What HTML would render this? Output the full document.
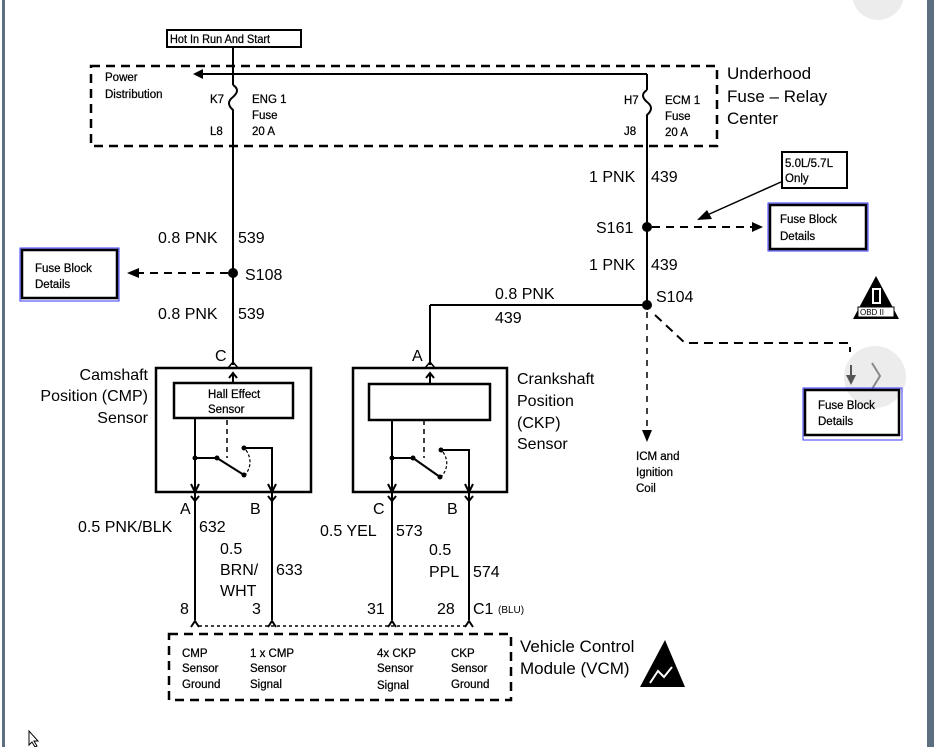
<!DOCTYPE html>
<html><head><meta charset="utf-8"><style>
html,body{margin:0;padding:0;background:#fff;width:934px;height:747px;overflow:hidden}
svg{display:block}
text{font-family:"Liberation Sans",sans-serif;fill:#000}
.s{font-size:11.5px;stroke:#000;stroke-width:0.25px}
</style></head><body>
<svg width="934" height="747" viewBox="0 0 934 747" xmlns="http://www.w3.org/2000/svg">
<rect x="0" y="0" width="934" height="747" fill="#fff"/>
<rect x="2" y="0" width="3" height="747" fill="#5d6e80"/>
<rect x="927" y="0" width="7" height="747" fill="#5d6e80"/>
<circle cx="878" cy="-6" r="26" fill="#ececec"/>

<!-- Hot in run box -->
<rect x="167" y="30" width="134" height="17" fill="#fff" stroke="#000" stroke-width="2"/>
<text x="170" y="43" font-size="11.5" transform="translate(170 0) scale(0.95 1) translate(-170 0)" class="s">Hot In Run And Start</text>

<!-- underhood dashed box -->
<rect x="91" y="66" width="626" height="80" fill="none" stroke="#000" stroke-width="2.5" stroke-dasharray="9,6"/>
<text x="105" y="81" class="s">Power</text>
<text x="105" y="98" class="s">Distribution</text>
<text x="727" y="79" font-size="17">Underhood</text>
<text x="727" y="102" font-size="17">Fuse – Relay</text>
<text x="727" y="124" font-size="17">Center</text>

<g stroke="#000" stroke-width="2" fill="none">
<line x1="233" y1="47" x2="233" y2="85"/>
<line x1="200" y1="74" x2="647" y2="74"/>
<line x1="647" y1="74" x2="647" y2="90"/>
<path d="M233 85 q8 5 0 12 q-8 6 0 13 l0 5"/>
<path d="M647 90 q-8 5 0 12 q8 6 0 13 l0 6"/>
<line x1="233" y1="115" x2="233" y2="365"/>
<line x1="647" y1="120" x2="647" y2="305"/>
<line x1="647" y1="305" x2="430" y2="305"/>
<line x1="430" y1="305" x2="430" y2="365"/>
</g>
<polygon points="193,74 203,69 203,79" fill="#000"/>
<text x="210" y="103" class="s">K7</text>
<text x="210" y="135" class="s">L8</text>
<text x="252" y="103" class="s">ENG 1</text>
<text x="252" y="119" class="s">Fuse</text>
<text x="252" y="135" class="s">20 A</text>
<text x="624" y="104" class="s">H7</text>
<text x="624" y="135" class="s">J8</text>
<text x="665" y="104" class="s">ECM 1</text>
<text x="665" y="120" class="s">Fuse</text>
<text x="665" y="136" class="s">20 A</text>

<!-- right wire labels -->
<text x="589" y="182" font-size="16">1 PNK</text><text x="651" y="182" font-size="16">439</text>
<text x="596" y="233" font-size="16">S161</text>
<circle cx="647" cy="227" r="5" fill="#000"/>
<line x1="652" y1="227" x2="752" y2="227" stroke="#000" stroke-width="2" stroke-dasharray="8,6"/>
<polygon points="763,227 752,222 752,232" fill="#000"/>
<rect x="768" y="203" width="100" height="48" fill="none" stroke="#3a3aff" stroke-width="1"/>
<rect x="770" y="205" width="96" height="44" fill="none" stroke="#000" stroke-width="2.5"/>
<text x="780" y="223" class="s">Fuse Block</text>
<text x="780" y="240" class="s">Details</text>
<rect x="782" y="152" width="65" height="36" fill="#fff" stroke="#000" stroke-width="2"/>
<text x="785" y="167" class="s">5.0L/5.7L</text>
<text x="785" y="182" class="s">Only</text>
<line x1="781" y1="182" x2="705" y2="216" stroke="#000" stroke-width="1.5"/>
<polygon points="697,220 707,210 712,219" fill="#000"/>
<text x="589" y="270" font-size="16">1 PNK</text><text x="651" y="270" font-size="16">439</text>
<text x="656" y="302" font-size="16">S104</text>
<circle cx="647" cy="305" r="5" fill="#000"/>
<text x="495" y="299" font-size="16">0.8 PNK</text>
<text x="495" y="323" font-size="16">439</text>
<line x1="647" y1="312" x2="647" y2="430" stroke="#000" stroke-width="1.5" stroke-dasharray="6,6"/>
<polygon points="647,442 642,430 652,430" fill="#000"/>
<text x="636" y="460" class="s">ICM and</text>
<text x="636" y="476" class="s">Ignition</text>
<text x="636" y="492" class="s">Coil</text>
<path d="M655 315 L685 343 L850 343 L850 352" stroke="#000" stroke-width="2" stroke-dasharray="9,6" fill="none"/>
<circle cx="875" cy="377" r="31" fill="#ececec"/>
<line x1="851" y1="365" x2="851" y2="378" stroke="#555" stroke-width="2"/>
<polygon points="851,385 846,375 856,375" fill="#555"/>
<path d="M872 363 l8 13 l-8 13" stroke="#888" stroke-width="2" fill="none"/>
<rect x="803" y="388" width="99" height="52" fill="none" stroke="#3a3aff" stroke-width="1"/>
<rect x="805" y="390" width="94" height="45" fill="none" stroke="#000" stroke-width="2.5"/>
<text x="818" y="409" class="s">Fuse Block</text>
<text x="818" y="425" class="s">Details</text>
<!-- OBD triangle -->
<polygon points="876,276 899,319 853,319" fill="#000"/>
<rect x="872" y="288" width="9" height="16" fill="#fff"/>
<rect x="874" y="290" width="5" height="12" fill="#000"/>
<rect x="858" y="307" width="36" height="10" fill="#fff" stroke="#000" stroke-width="1"/>
<text x="860" y="315" font-size="8">OBD II</text>

<!-- left wire labels -->
<text x="158" y="243" font-size="16">0.8 PNK</text><text x="238" y="243" font-size="16">539</text>
<circle cx="233" cy="273" r="5" fill="#000"/>
<text x="245" y="280" font-size="16">S108</text>
<line x1="228" y1="273" x2="138" y2="273" stroke="#000" stroke-width="2" stroke-dasharray="8,6"/>
<polygon points="127,273 139,268 139,278" fill="#000"/>
<rect x="20" y="248" width="99" height="53" fill="none" stroke="#3a3aff" stroke-width="1"/>
<rect x="22" y="250" width="95" height="48" fill="none" stroke="#000" stroke-width="2.5"/>
<text x="35" y="272" class="s">Fuse Block</text>
<text x="35" y="288" class="s">Details</text>
<text x="158" y="319" font-size="16">0.8 PNK</text><text x="238" y="319" font-size="16">539</text>

<!-- CMP sensor -->
<text x="215" y="361" font-size="16">C</text>
<text x="412" y="361" font-size="16">A</text>
<path d="M228 368 l5 -6 l5 6" stroke="#000" stroke-width="1.5" fill="none"/>
<path d="M425 368 l5 -6 l5 6" stroke="#000" stroke-width="1.5" fill="none"/>
<text x="148" y="380" font-size="16" text-anchor="end">Camshaft</text>
<text x="148" y="401" font-size="16" text-anchor="end">Position (CMP)</text>
<text x="148" y="423" font-size="16" text-anchor="end">Sensor</text>
<rect x="156" y="368" width="155" height="124" fill="none" stroke="#000" stroke-width="2.5"/>
<rect x="174" y="383" width="119" height="35" fill="#fff" stroke="#000" stroke-width="2.5"/>
<text x="208" y="398" class="s">Hall Effect</text>
<text x="208" y="413" class="s">Sensor</text>
<g stroke="#000" stroke-width="2" fill="none">
<line x1="233" y1="383" x2="233" y2="373"/><path d="M229 378 l4 -5 l4 5"/>
<line x1="195" y1="418" x2="195" y2="500"/>
<line x1="195" y1="458" x2="217" y2="458"/>
<line x1="217" y1="458" x2="244" y2="475"/>
<path d="M244 448 l28 0 l0 52"/>
<path d="M191 484 l4 8 l4 -8"/><path d="M268 484 l4 8 l4 -8"/>
</g>
<line x1="227" y1="420" x2="227" y2="458" stroke="#000" stroke-width="1.5" stroke-dasharray="5,4"/>
<path d="M246 450 q8 12 0 24" stroke="#000" stroke-width="1.2" stroke-dasharray="3,2" fill="none"/>
<circle cx="195" cy="458" r="2.5"/><circle cx="217" cy="458" r="2.5"/><circle cx="244" cy="475" r="2.5"/><circle cx="244" cy="448" r="2.5"/>

<!-- CKP sensor -->
<text x="517" y="384" font-size="16">Crankshaft</text>
<text x="517" y="406" font-size="16">Position</text>
<text x="517" y="428" font-size="16">(CKP)</text>
<text x="517" y="449" font-size="16">Sensor</text>
<rect x="353" y="368" width="154" height="124" fill="none" stroke="#000" stroke-width="2.5"/>
<rect x="369" y="384" width="121" height="36" fill="#fff" stroke="#000" stroke-width="2.5"/>
<g stroke="#000" stroke-width="2" fill="none">
<line x1="430" y1="384" x2="430" y2="373"/><path d="M426 378 l4 -5 l4 5"/>
<line x1="392" y1="420" x2="392" y2="500"/>
<line x1="392" y1="458" x2="413" y2="458"/>
<line x1="413" y1="458" x2="440" y2="477"/>
<path d="M441 450 l28 0 l0 50"/>
<path d="M388 484 l4 8 l4 -8"/><path d="M465 484 l4 8 l4 -8"/>
</g>
<line x1="424" y1="420" x2="424" y2="458" stroke="#000" stroke-width="1.5" stroke-dasharray="5,4"/>
<path d="M443 452 q8 12 -1 24" stroke="#000" stroke-width="1.2" stroke-dasharray="3,2" fill="none"/>
<circle cx="392" cy="458" r="2.5"/><circle cx="413" cy="458" r="2.5"/><circle cx="440" cy="477" r="2.5"/><circle cx="441" cy="450" r="2.5"/>

<!-- lower pins -->
<text x="180" y="514" font-size="16">A</text>
<text x="250" y="514" font-size="16">B</text>
<text x="373" y="514" font-size="16">C</text>
<text x="447" y="514" font-size="16">B</text>
<g stroke="#000" stroke-width="2" fill="none">
<path d="M191 496 l4 5 l4 -5"/><path d="M268 496 l4 5 l4 -5"/>
<path d="M388 496 l4 5 l4 -5"/><path d="M465 496 l4 5 l4 -5"/>
<line x1="195" y1="500" x2="195" y2="620"/>
<line x1="272" y1="500" x2="272" y2="620"/>
<line x1="392" y1="500" x2="392" y2="620"/>
<line x1="469" y1="500" x2="469" y2="620"/>
<path d="M191 627 l4 -6 l4 6"/><path d="M268 627 l4 -6 l4 6"/>
<path d="M388 627 l4 -6 l4 6"/><path d="M465 627 l4 -6 l4 6"/>
</g>
<line x1="199" y1="626" x2="466" y2="626" stroke="#000" stroke-width="1.5" stroke-dasharray="3,3"/>
<text x="78" y="532" font-size="16">0.5 PNK/BLK</text><text x="199" y="532" font-size="16">632</text>
<text x="220" y="554" font-size="16">0.5</text>
<text x="220" y="575" font-size="16">BRN/</text><text x="276" y="575" font-size="16">633</text>
<text x="220" y="596" font-size="16">WHT</text>
<text x="320" y="536" font-size="16">0.5 YEL</text><text x="396" y="536" font-size="16">573</text>
<text x="429" y="555" font-size="16">0.5</text>
<text x="429" y="577" font-size="16">PPL</text><text x="473" y="577" font-size="16">574</text>
<text x="180" y="614" font-size="16">8</text>
<text x="252" y="614" font-size="16">3</text>
<text x="367" y="614" font-size="16">31</text>
<text x="437" y="614" font-size="16">28</text>
<text x="473" y="614" font-size="16">C1</text><text x="498" y="613" font-size="10">(BLU)</text>

<!-- VCM box -->
<rect x="169" y="634" width="342" height="66" fill="none" stroke="#000" stroke-width="2.5" stroke-dasharray="9,6"/>
<g>
<text x="182" y="657" class="s">CMP</text><text x="182" y="672" class="s">Sensor</text><text x="182" y="688" class="s">Ground</text>
<text x="250" y="657" class="s">1 x CMP</text><text x="250" y="672" class="s">Sensor</text><text x="250" y="688" class="s">Signal</text>
<text x="377" y="657" class="s">4x CKP</text><text x="377" y="672" class="s">Sensor</text><text x="377" y="689" class="s">Signal</text>
<text x="451" y="657" class="s">CKP</text><text x="451" y="672" class="s">Sensor</text><text x="451" y="688" class="s">Ground</text>
</g>
<text x="520" y="652" font-size="17">Vehicle Control</text>
<text x="520" y="674" font-size="17">Module (VCM)</text>
<polygon points="665,640 685,687 640,687" fill="#000"/>
<path d="M650 683 l8 -12 l6 6 l8 -10" stroke="#fff" stroke-width="2" fill="none"/>

<!-- cursor -->
<path d="M29 731 l0 14 l3 -3 l3 5 l2 -1 l-3 -5 l4 0 z" fill="#fff" stroke="#000" stroke-width="1"/>
</svg>
</body></html>
